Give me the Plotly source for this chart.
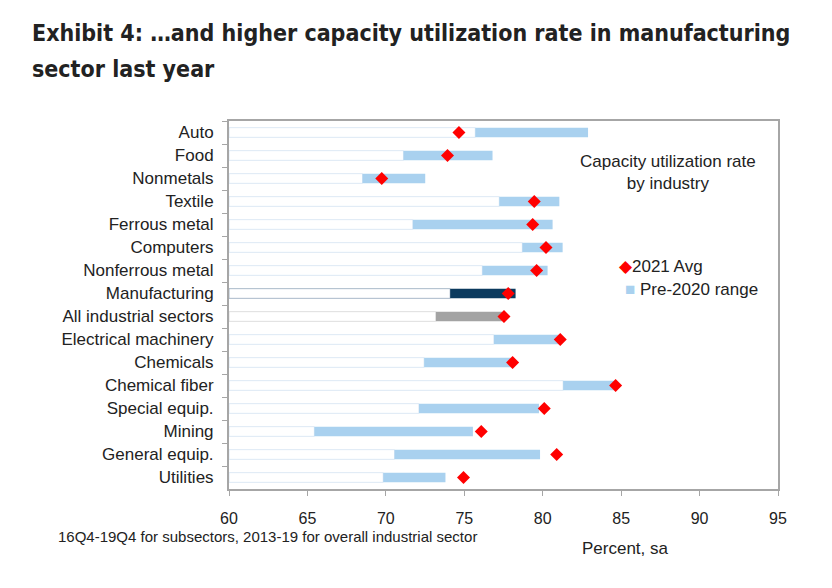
import plotly.graph_objects as go

categories = ["Auto", "Food", "Nonmetals", "Textile", "Ferrous metal", "Computers",
              "Nonferrous metal", "Manufacturing", "All industrial sectors",
              "Electrical machinery", "Chemicals", "Chemical fiber", "Special equip.",
              "Mining", "General equip.", "Utilities"]
range_low = [75.70, 71.12, 68.51, 77.23, 71.72, 78.70, 76.15, 74.10, 73.19,
             76.89, 72.44, 81.30, 72.11, 65.44, 70.55, 69.83]
range_high = [82.89, 76.80, 72.51, 81.06, 80.63, 81.27, 80.31, 78.27, 77.40,
              81.08, 78.06, 84.63, 79.76, 75.55, 79.83, 73.80]
avg_2021 = [74.66, 73.93, 69.74, 79.46, 79.36, 80.21, 79.61, 77.80, 77.53,
            81.12, 78.08, 84.65, 80.10, 76.08, 80.89, 74.95]
x_ticks = [60, 65, 70, 75, 80, 85, 90, 95]
axis_min = 60

LIGHT = "#a9d1ef"
bar_colors = []
base_lines = []
for c in categories:
    if c == "Manufacturing":
        bar_colors.append("#0b3a5e")
        base_lines.append("#a9b9c9")
    elif c == "All industrial sectors":
        bar_colors.append("#a3a3a3")
        base_lines.append("#dedede")
    else:
        bar_colors.append(LIGHT)
        base_lines.append("#dde9f5")

fig = go.Figure()
fig.add_trace(go.Bar(
    y=categories, x=[l - axis_min for l in range_low], base=axis_min, orientation="h",
    marker=dict(color="white", line=dict(color=base_lines, width=1)),
    showlegend=False, hoverinfo="skip"))
fig.add_trace(go.Bar(
    y=categories, x=[h - l for h, l in zip(range_high, range_low)], base=range_low,
    orientation="h", marker=dict(color=bar_colors, line=dict(width=0)),
    name="Pre-2020 range", showlegend=False))
fig.add_trace(go.Scatter(
    y=categories, x=avg_2021, mode="markers",
    marker=dict(symbol="diamond", color="#ff0000", size=10, line=dict(width=0)),
    name="2021 Avg", showlegend=False))

font = "Liberation Sans, Arial, sans-serif"
TFONT = "Liberation Sans Narrow, DejaVu Sans Condensed, Arial Narrow, sans-serif"
PX0, PX1, PY0, PY1 = 229, 778, 121, 489
TXT = "#222222"


def px(x):
    return (x - PX0) / (PX1 - PX0)


def py(y):
    return (PY1 - y) / (PY1 - PY0)


n = len(categories)
fig.update_layout(
    width=832, height=588,
    margin=dict(l=PX0, r=832 - PX1, t=PY0, b=588 - PY1),
    paper_bgcolor="white", plot_bgcolor="white",
    barmode="overlay", bargap=0.58,
    showlegend=False,
    font=dict(family=font, color=TXT, size=17),
    xaxis=dict(range=[60, 95], tickvals=x_ticks, ticks="outside", ticklen=5,
               tickcolor="#a6a6a6", showline=True, linecolor="#a6a6a6", linewidth=2,
               mirror=True, showgrid=False, zeroline=False, ticklabelstandoff=9,
               tickfont=dict(size=16, color=TXT)),
    yaxis=dict(range=[n - 0.5, -0.5], ticks="outside", ticklen=5, tickson="boundaries",
               tickcolor="#a6a6a6", showline=True, linecolor="#a6a6a6", linewidth=2,
               mirror=True, showgrid=False, ticklabelstandoff=10,
               tickfont=dict(size=17, color=TXT)),
    annotations=[
        dict(text="<b>Exhibit 4: \u2026and higher capacity utilization rate in manufacturing</b>",
             x=px(30), y=py(33), xref="paper", yref="paper", showarrow=False,
             xanchor="left", yanchor="middle", font=dict(family=TFONT, size=23, color=TXT)),
        dict(text="<b>sector last year</b>",
             x=px(30), y=py(69), xref="paper", yref="paper", showarrow=False,
             xanchor="left", yanchor="middle", font=dict(family=TFONT, size=23, color=TXT)),
        dict(text="Capacity utilization rate<br>by industry", x=px(668), y=py(172),
             xref="paper", yref="paper", showarrow=False, xanchor="center", yanchor="middle",
             font=dict(size=17, color=TXT)),
        dict(text="<span style='color:#ff0000'>\u25c6</span>2021 Avg", x=px(617), y=py(266),
             xref="paper", yref="paper", showarrow=False, xanchor="left", yanchor="middle",
             font=dict(size=17, color=TXT)),
        dict(text="<span style='color:" + LIGHT + "'>\u25a0</span> Pre-2020 range", x=px(623), y=py(289),
             xref="paper", yref="paper", showarrow=False, xanchor="left", yanchor="middle",
             font=dict(size=17, color=TXT)),
        dict(text="Percent, sa", x=px(625), y=py(548), xref="paper", yref="paper",
             showarrow=False, xanchor="center", yanchor="middle",
             font=dict(size=17, color=TXT)),
        dict(text="16Q4-19Q4 for subsectors, 2013-19 for overall industrial sector",
             x=px(56), y=py(536), xref="paper", yref="paper", showarrow=False,
             xanchor="left", yanchor="middle", font=dict(size=15, color=TXT)),
    ],
)

fig.write_html("out.html")
